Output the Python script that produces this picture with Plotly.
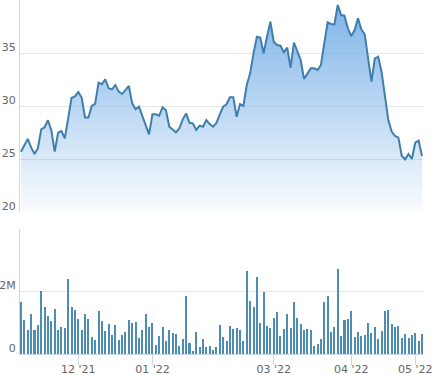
import plotly.graph_objects as go

# ---- data ----
price = [25.69, 26.3, 26.9, 26.1, 25.47, 26.0, 27.8, 28.0, 28.65, 27.7,
         25.7, 27.48, 27.64, 26.95, 28.84, 30.75, 30.9, 31.32, 30.8, 28.92,
         28.92, 30.0, 30.2, 32.2, 32.05, 32.52, 31.67, 31.57, 31.98, 31.35,
         31.13, 31.57, 31.89, 30.25, 29.69, 29.94, 28.99, 28.2, 27.33, 29.21,
         29.21, 29.08, 29.87, 29.62, 28.05, 27.74, 27.52, 27.9, 28.74, 29.3,
         28.42, 28.36, 27.74, 28.15, 28.05, 28.68, 28.3, 28.05, 28.4, 29.2,
         29.94, 30.16, 30.82, 30.82, 28.99, 30.19, 30.0, 31.98, 33.08, 34.97,
         36.54, 36.45, 34.97, 36.54, 37.96, 36.07, 35.75, 35.69, 35.06, 35.5,
         33.61, 35.97, 35.06, 34.34, 32.55, 33.02, 33.55, 33.55, 33.4, 33.87,
         35.91, 37.9, 37.74, 37.7, 39.53, 38.58, 38.52, 37.33, 36.6, 37.17,
         38.27, 37.23, 36.76, 34.5, 32.3, 34.5, 34.65, 33.24, 31.04, 28.68,
         27.58, 27.17, 27.01, 25.28, 24.97, 25.47, 25.0, 26.54, 26.73, 25.28]

volume_m = [1.68, 1.10, 0.77, 1.29, 0.77, 0.94, 2.03, 1.52, 1.23, 1.06,
            1.45, 0.77, 0.87, 0.84, 2.39, 1.52, 1.42, 1.13, 0.77, 1.29,
            1.13, 0.55, 0.45, 1.39, 1.06, 0.74, 0.97, 0.61, 0.94, 0.45,
            0.61, 0.71, 1.10, 1.00, 1.03, 0.52, 0.77, 1.29, 0.87, 1.00,
            0.29, 0.58, 0.87, 0.42, 0.77, 0.68, 0.65, 0.26, 0.48, 1.87,
            0.35, 0.10, 0.71, 0.23, 0.48, 0.23, 0.26, 0.13, 0.23, 0.94,
            0.55, 0.42, 0.90, 0.81, 0.84, 0.77, 0.42, 2.65, 1.71, 1.52,
            2.45, 1.00, 2.00, 0.90, 0.84, 1.16, 1.35, 0.58, 0.81, 1.29,
            0.84, 1.65, 1.16, 0.97, 0.77, 0.81, 0.77, 0.26, 0.32, 0.48,
            1.68, 1.87, 0.71, 0.87, 2.71, 0.58, 1.10, 1.13, 1.39, 0.55,
            0.71, 0.58, 0.61, 1.00, 0.68, 0.87, 0.48, 0.74, 1.39, 1.42,
            0.97, 0.87, 0.90, 0.52, 0.65, 0.52, 0.61, 0.68, 0.42, 0.65]

day_index = list(range(len(price)))
month_tick_index = [17, 39, 75, 98, 117]
month_tick_labels = ["12 '21", "01 '22", "03 '22", "04 '22", "05 '22"]

price_ticks = [20, 25, 30, 35, 40]
price_tick_labels = ["20", "25", "30", "35", ""]
volume_ticks = [0, 2e6, 4e6]
volume_tick_labels = ["0", "2M", ""]

volume = [v * 1e6 for v in volume_m]

LINE = "#3f7fab"
BAR = "#4d8db3"
GRID = "#e6e6e6"
AXIS = "#ccd6eb"
FONT = dict(family="DejaVu Sans", size=11, color="#666666")

fig = go.Figure()
fig.add_trace(go.Scatter(
    x=day_index, y=price, mode="lines",
    line=dict(color=LINE, width=2),
    fill="tozeroy",
    fillgradient=dict(type="vertical", start=20, stop=40,
                      colorscale=[[0, "rgba(124,178,232,0.04)"],
                                  [1, "rgba(124,178,232,1.0)"]]),
    xaxis="x", yaxis="y", hoverinfo="skip", showlegend=False))
fig.add_trace(go.Bar(
    x=day_index, y=volume, width=0.6, marker=dict(color=BAR, line=dict(width=0)),
    xaxis="x2", yaxis="y2", showlegend=False))

H = 375
bottom = 21
plot_h = H - bottom
top_dom0 = (plot_h - 212) / plot_h
bot_dom1 = (plot_h - 229) / plot_h

xr = [-0.3, 119.3]
fig.update_layout(
    width=432, height=H,
    margin=dict(l=20, r=9, t=0, b=bottom, autoexpand=False),
    paper_bgcolor="white", plot_bgcolor="white",
    font=FONT, bargap=0,
    xaxis=dict(domain=[0, 1], anchor="y", range=xr, showticklabels=False,
               showgrid=False, zeroline=False, ticks="", matches="x2",
               automargin=False),
    yaxis=dict(domain=[top_dom0, 1], anchor="x", range=[20, 40],
               tickvals=price_ticks, ticktext=price_tick_labels,
               showgrid=True, gridcolor=GRID, gridwidth=1, zeroline=False,
               showline=True, linecolor=AXIS, linewidth=1, ticks="",
               ticklabelshift=-6, ticklabelstandoff=1, tickfont=FONT,
               automargin=False, ticklabeloverflow="allow"),
    xaxis2=dict(domain=[0, 1], anchor="y2", range=xr,
                tickvals=month_tick_index, ticktext=month_tick_labels,
                showgrid=False, zeroline=False, showline=True, linecolor=AXIS,
                ticks="outside", ticklen=10, tickcolor=AXIS, tickwidth=1,
                ticklabelstandoff=-5, tickfont=FONT,
                automargin=False, ticklabeloverflow="allow"),
    yaxis2=dict(domain=[0, bot_dom1], anchor="x2", range=[0, 4e6],
                tickvals=volume_ticks, ticktext=volume_tick_labels,
                showgrid=True, gridcolor=GRID, gridwidth=1, zeroline=False,
                showline=True, linecolor=AXIS, linewidth=1, ticks="",
                ticklabelshift=-6, ticklabelstandoff=1, tickfont=FONT,
                automargin=False, ticklabeloverflow="allow"),
)

fig.write_html("out.html")
